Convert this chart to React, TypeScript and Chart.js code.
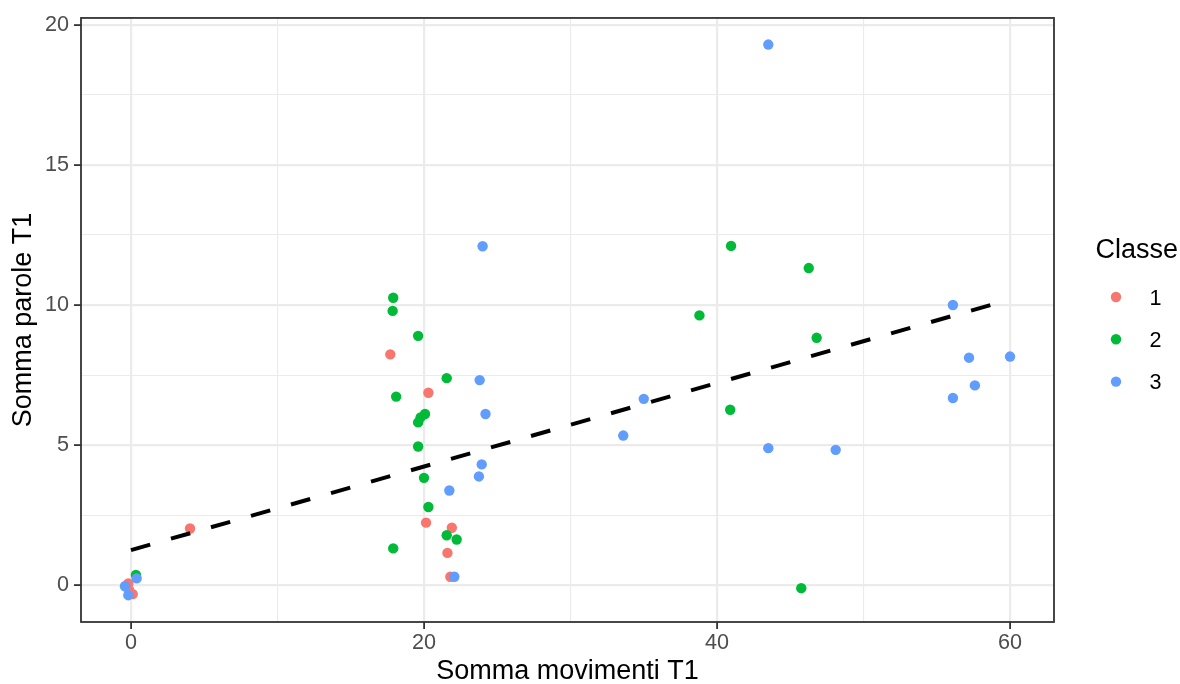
import { useEffect, useRef } from "react";
import { Chart, registerables } from "chart.js";

Chart.register(...registerables);

// ---- Data ----
const classLabels = ["1", "2", "3"];
const classColors = ["#F8766D", "#00BA38", "#619CFF"];

const class1X = [4.03, 17.7, 20.3, 20.14, 21.9, 21.6, 21.8, -0.18, -0.12, 0.12];
const class1Y = [2.02, 8.24, 6.87, 2.23, 2.05, 1.15, 0.3, 0.06, -0.18, -0.32];

const class2X = [17.9, 17.86, 19.6, 21.55, 18.1, 20.07, 19.77, 19.6, 19.6, 20.0, 20.3, 21.55, 22.23, 17.9, 40.96, 46.26, 38.8, 46.8, 40.9, 45.75, 0.34];
const class2Y = [10.26, 9.79, 8.9, 7.39, 6.73, 6.11, 5.99, 5.81, 4.95, 3.83, 2.79, 1.78, 1.63, 1.31, 12.11, 11.32, 9.63, 8.83, 6.26, -0.11, 0.36];

const class3X = [43.5, 24.0, 56.1, 57.2, 60.0, 57.6, 56.1, 35.0, 33.6, 43.5, 48.1, 23.8, 24.2, 23.94, 23.75, 21.73, 22.07, 0.39, -0.41, -0.18];
const class3Y = [19.3, 12.1, 10.0, 8.12, 8.16, 7.13, 6.68, 6.65, 5.34, 4.89, 4.83, 7.32, 6.11, 4.31, 3.88, 3.38, 0.3, 0.24, -0.04, -0.36];

// fitted line end points
const fitX = [0, 60];
const fitY = [1.25, 10.2];

const xTickValues = [0, 10, 20, 30, 40, 50, 60];
const xTickLabels = ["0", "", "20", "", "40", "", "60"];
const yTickValues = [0, 2.5, 5, 7.5, 10, 12.5, 15, 17.5, 20];
const yTickLabels = ["0", "", "5", "", "10", "", "15", "", "20"];

const xTitle = "Somma movimenti T1";
const yTitle = "Somma parole T1";
const legendTitle = "Classe";

const FONT = "'Liberation Sans', Arial, Helvetica, sans-serif";

const zip = (xs: number[], ys: number[]) => xs.map((x, i) => ({ x, y: ys[i] }));

const isMajor = (v: number, labels: string[], values: number[]) => {
  const i = values.indexOf(v);
  return i >= 0 && labels[i] !== "";
};

const panelPlugin = {
  id: "panelAndLegend",
  afterDraw(chart: any) {
    const { ctx, chartArea: a } = chart;
    ctx.save();
    ctx.strokeStyle = "#333333";
    ctx.lineWidth = 1.8;
    ctx.strokeRect(a.left, a.top, a.right - a.left, a.bottom - a.top);

    // legend
    const lx = a.right + 41.5;
    ctx.fillStyle = "#000000";
    ctx.font = `27px ${FONT}`;
    ctx.textAlign = "left";
    ctx.textBaseline = "alphabetic";
    ctx.fillText(legendTitle, lx, 258.3);
    const itemY0 = 297;
    const itemStep = 42.3;
    classLabels.forEach((lab, i) => {
      const y = itemY0 + i * itemStep;
      ctx.beginPath();
      ctx.arc(lx + 20.5, y, 5.2, 0, Math.PI * 2);
      ctx.fillStyle = classColors[i];
      ctx.fill();
      ctx.fillStyle = "#000000";
      ctx.font = `21.6px ${FONT}`;
      ctx.fillText(lab, lx + 54, y + 7.7);
    });
    ctx.restore();
  },
};

export default function App() {
  const ref = useRef<HTMLCanvasElement | null>(null);

  useEffect(() => {
    if (!ref.current) return;
    const pointDs = (i: number, xs: number[], ys: number[]) => ({
      label: classLabels[i],
      data: zip(xs, ys),
      backgroundColor: classColors[i],
      borderColor: classColors[i],
      pointRadius: 5.2,
      pointHoverRadius: 5.2,
      pointBorderWidth: 0,
      order: 3 - i + 1,
    });
    const chart = new Chart(ref.current, {
      type: "scatter",
      data: {
        datasets: [
          pointDs(0, class1X, class1Y),
          pointDs(1, class2X, class2Y),
          pointDs(2, class3X, class3Y),
          {
            label: "fit",
            data: zip(fitX, fitY),
            showLine: true,
            borderColor: "#000000",
            backgroundColor: "#000000",
            borderWidth: 4,
            borderDash: [20, 21.6],
            borderCapStyle: "butt",
            pointRadius: 0,
            pointHoverRadius: 0,
            fill: false,
            order: 0,
          } as any,
        ],
      },
      options: {
        responsive: false,
        animation: false,
        events: [],
        layout: { padding: { top: 16, right: 126, bottom: 0, left: 0 } },
        plugins: {
          legend: { display: false },
          tooltip: { enabled: false },
        },
        scales: {
          x: {
            type: "linear",
            min: -3.41,
            max: 63.0,
            afterBuildTicks: (s: any) => {
              s.ticks = xTickValues.map((v) => ({ value: v }));
            },
            afterFit: (s: any) => {
              s.height = 62;
            },
            ticks: {
              autoSkip: false,
              maxRotation: 0,
              padding: 1,
              color: "#4D4D4D",
              font: { family: FONT, size: 21.6 },
              callback: (v: any) => {
                const i = xTickValues.indexOf(Number(v));
                return i >= 0 ? xTickLabels[i] : "";
              },
            },
            grid: {
              color: "#EBEBEB",
              lineWidth: (c: any) => (c.tick && isMajor(c.tick.value, xTickLabels, xTickValues) ? 2.2 : 1.1),
              tickLength: 7,
              tickWidth: 1.8,
              tickColor: (c: any) =>
                c.tick && isMajor(c.tick.value, xTickLabels, xTickValues) ? "#333333" : "rgba(0,0,0,0)",
            },
            border: { display: false },
            title: {
              display: true,
              text: xTitle,
              color: "#000000",
              font: { family: FONT, size: 27, lineHeight: 0.95 },
              padding: { top: 0, bottom: 0 },
            },
          },
          y: {
            type: "linear",
            min: -1.317,
            max: 20.25,
            afterBuildTicks: (s: any) => {
              s.ticks = yTickValues.map((v) => ({ value: v }));
            },
            afterFit: (s: any) => {
              s.width = 81;
            },
            ticks: {
              autoSkip: false,
              padding: 5,
              color: "#4D4D4D",
              font: { family: FONT, size: 21.6 },
              callback: (v: any) => {
                const i = yTickValues.indexOf(Number(v));
                return i >= 0 ? yTickLabels[i] : "";
              },
            },
            grid: {
              color: "#EBEBEB",
              lineWidth: (c: any) => (c.tick && isMajor(c.tick.value, yTickLabels, yTickValues) ? 2.2 : 1.1),
              tickLength: 7,
              tickWidth: 1.8,
              tickColor: (c: any) =>
                c.tick && isMajor(c.tick.value, yTickLabels, yTickValues) ? "#333333" : "rgba(0,0,0,0)",
            },
            border: { display: false },
            title: {
              display: true,
              text: yTitle,
              color: "#000000",
              font: { family: FONT, size: 27, lineHeight: 0.95 },
              padding: { top: 10.5, bottom: 0 },
            },
          },
        },
      },
      plugins: [panelPlugin],
    } as any);
    return () => chart.destroy();
  }, []);

  return (
    <div style={{ position: "fixed", left: 0, top: 0, width: 1180, height: 684, background: "#ffffff" }}>
      <canvas ref={ref} width={1180} height={684} style={{ width: 1180, height: 684, display: "block" }} />
    </div>
  );
}
